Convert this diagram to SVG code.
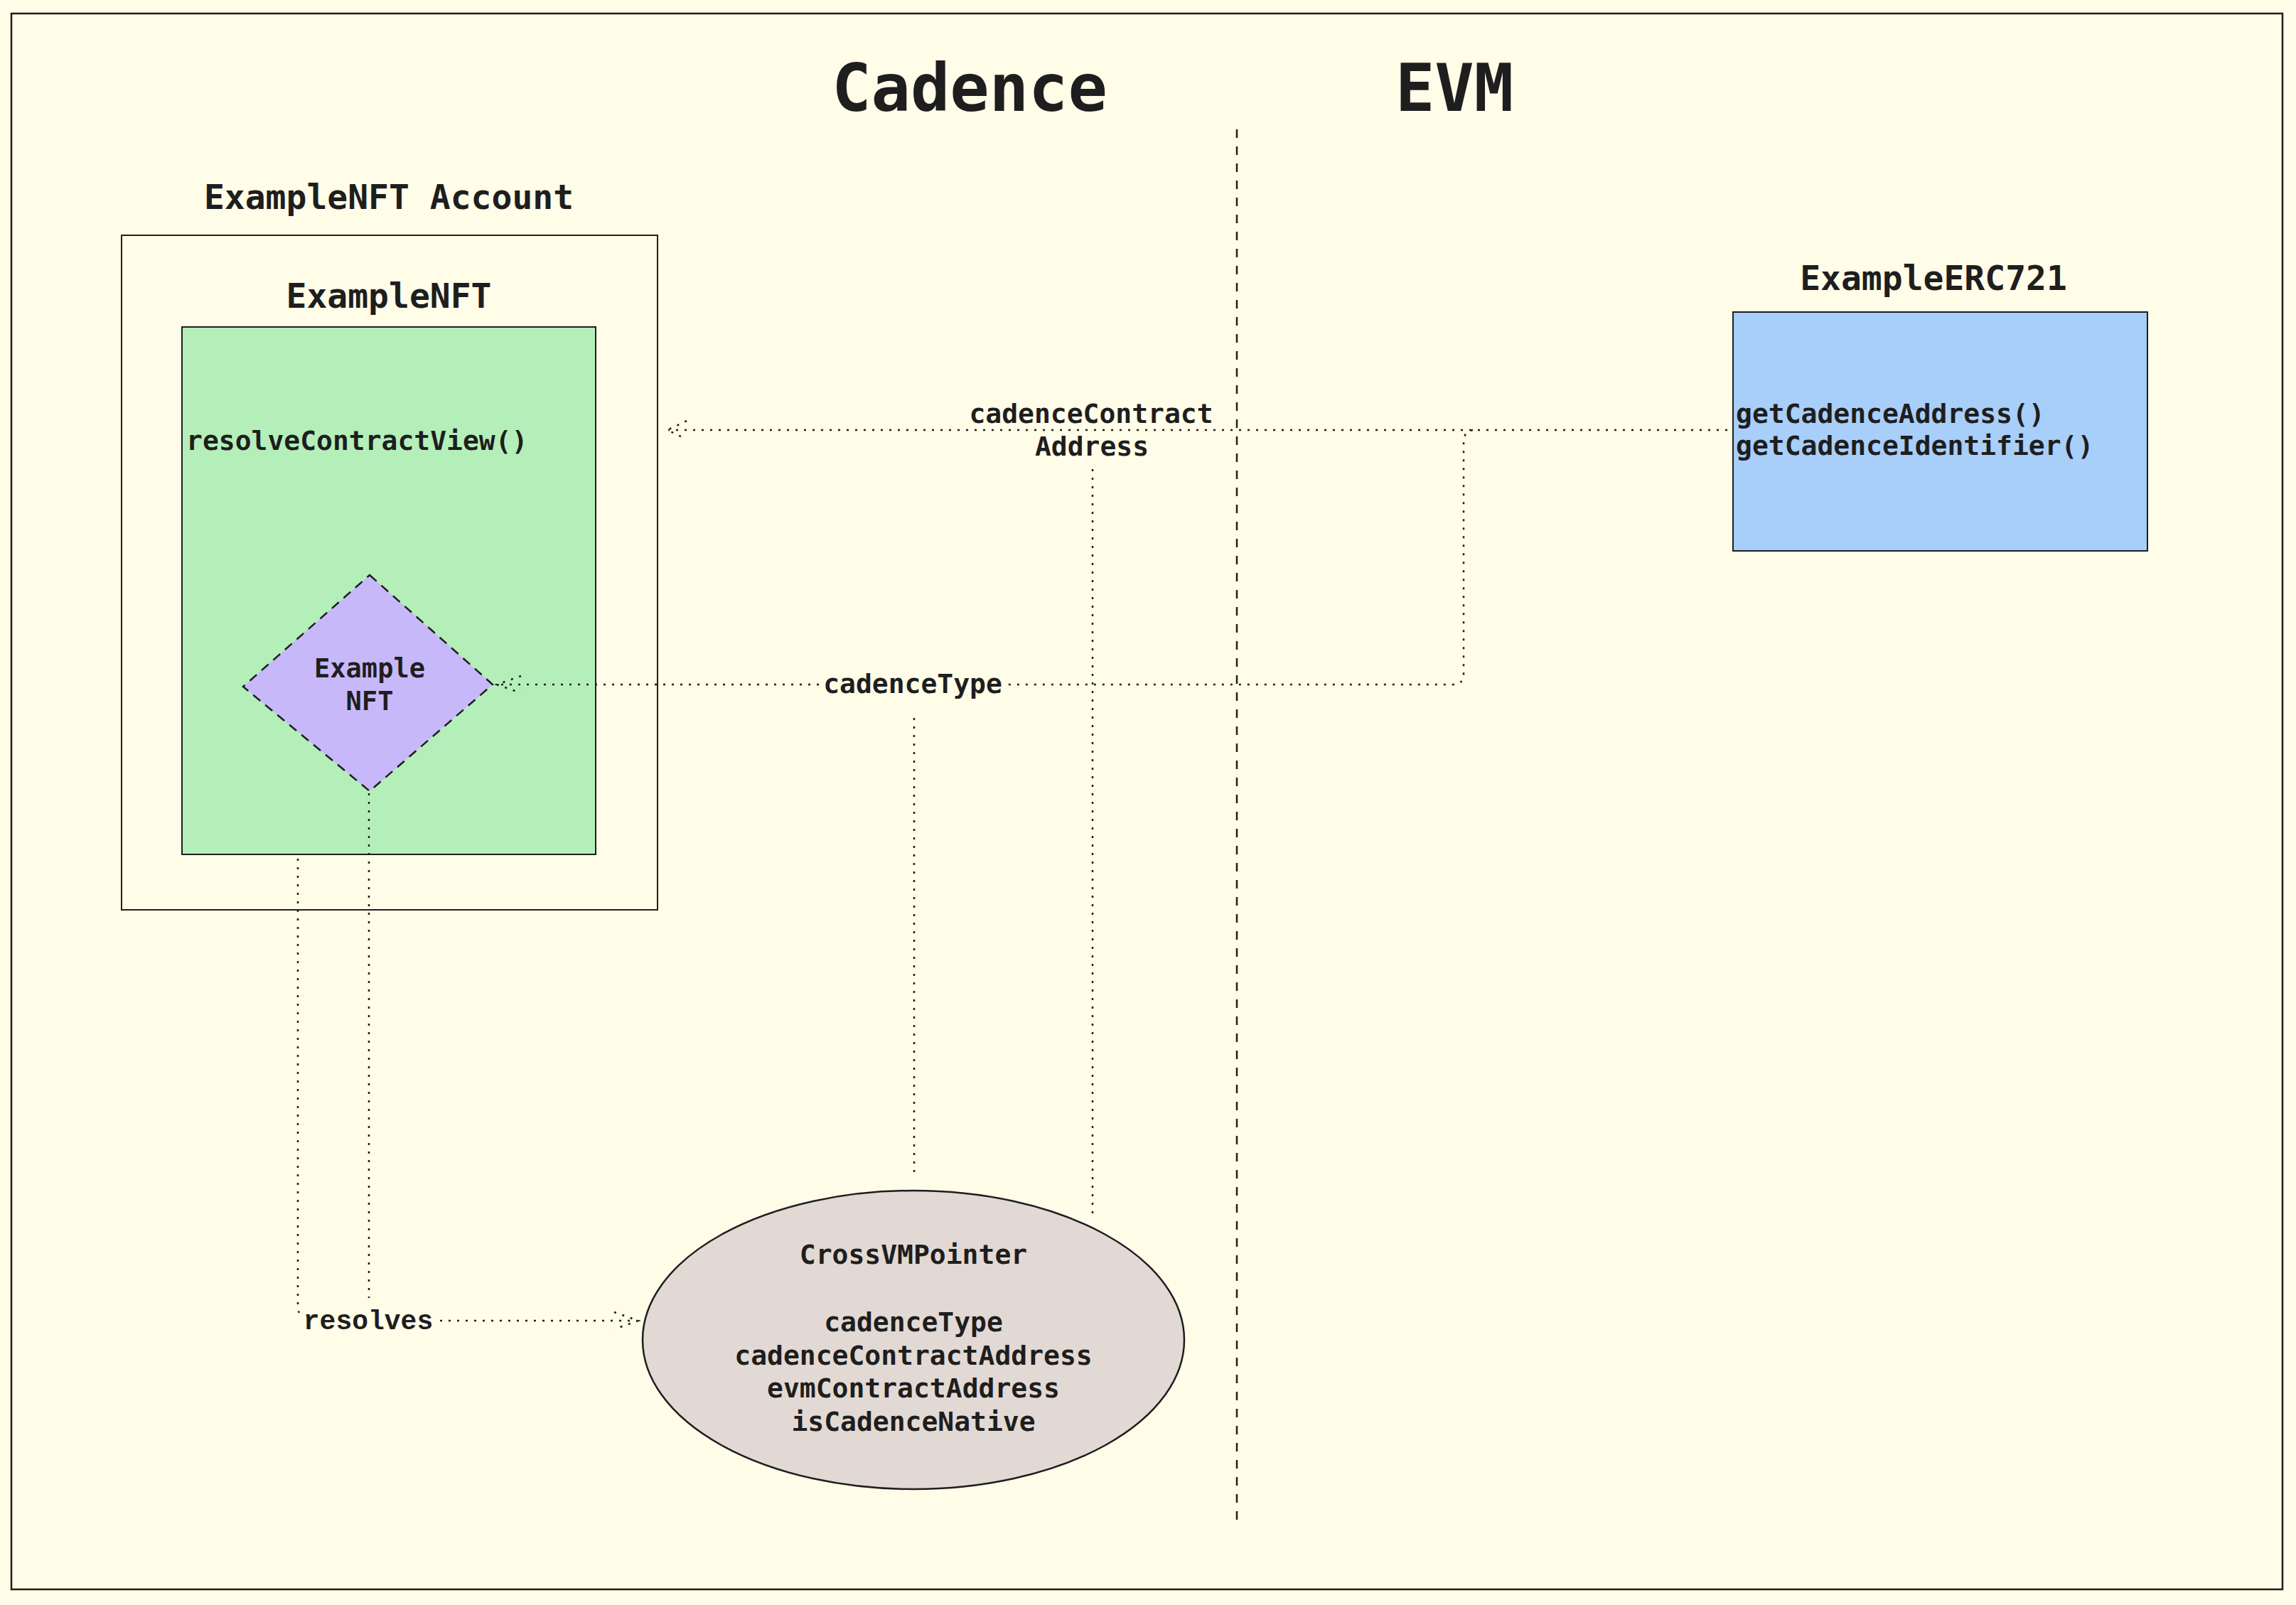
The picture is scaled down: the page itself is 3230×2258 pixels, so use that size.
<svg xmlns="http://www.w3.org/2000/svg" width="3230" height="2258" viewBox="0 0 3230 2258">
<defs>
<style>
.t{font-family:"DejaVu Sans Mono","Liberation Mono",monospace;fill:#1e1e1e}
.title{font-size:92px;font-weight:bold}
.h{font-size:48px;font-weight:bold}
.l{font-size:38px;font-weight:bold}
.dot{fill:none;stroke:#1e1e1e;stroke-width:2.5;stroke-dasharray:3 9;stroke-linecap:butt}
.box{stroke:#1e1e1e;stroke-width:2}
</style>
</defs>
<rect x="0" y="0" width="3230" height="2258" fill="#fffce8"/>
<rect x="16" y="19" width="3195" height="2217" fill="none" stroke="#1e1e1e" stroke-width="2.5"/>

<g id="title-cadence"><text class="t title" x="1364" y="156" text-anchor="middle">Cadence</text></g>
<g id="title-evm"><text class="t title" x="2046" y="156" text-anchor="middle">EVM</text></g>
<g id="divider"><line x1="1740" y1="182" x2="1740" y2="2147" stroke="#1e1e1e" stroke-width="2.5" stroke-dasharray="12 12"/></g>

<g id="account">
<text class="t h" x="547" y="294" text-anchor="middle">ExampleNFT Account</text>
<rect class="box" x="171" y="331" width="754" height="949" fill="none"/>
</g>

<g id="examplenft">
<text class="t h" x="547" y="433" text-anchor="middle">ExampleNFT</text>
<rect class="box" x="256" y="460" width="582" height="742" fill="#b4efb9"/>
<text class="t l" x="262" y="633">resolveContractView()</text>
</g>

<g id="examplenft-resource">
<polygon points="520,809 693,963 520,1113 342,966" fill="#c7b8fa" stroke="#1e1e1e" stroke-width="2.5" stroke-dasharray="13 9"/>
<text class="t l" x="520" y="953" text-anchor="middle" style="font-size:37px">Example</text>
<text class="t l" x="520" y="999" text-anchor="middle" style="font-size:37px">NFT</text>
</g>

<g id="exampleerc721">
<text class="t h" x="2720" y="408" text-anchor="middle">ExampleERC721</text>
<rect class="box" x="2438" y="439" width="583" height="336" fill="#a8cefa"/>
<text class="t l" x="2442" y="595">getCadenceAddress()</text>
<text class="t l" x="2442" y="640">getCadenceIdentifier()</text>
</g>

<g id="crossvmpointer">
<ellipse cx="1285" cy="1885" rx="381" ry="210" fill="#e3d9d4" stroke="#1e1e1e" stroke-width="2.5"/>
<text class="t l" x="1285" y="1778" text-anchor="middle">CrossVMPointer</text>
<text class="t l" x="1285" y="1873" text-anchor="middle">cadenceType</text>
<text class="t l" x="1285" y="1920" text-anchor="middle">cadenceContractAddress</text>
<text class="t l" x="1285" y="1966" text-anchor="middle">evmContractAddress</text>
<text class="t l" x="1285" y="2013" text-anchor="middle">isCadenceNative</text>
</g>

<g id="connectors">
<path class="dot" d="M2430,605 H940"/>
<path class="dot" d="M966,592 L939,605 L966,618"/>
<text class="t l" x="1535" y="595" text-anchor="middle">cadenceContract</text>
<text class="t l" x="1536" y="641" text-anchor="middle">Address</text>
<path class="dot" d="M2072,605 Q2059,607 2059,622 V948 Q2059,963 2044,963 H1414"/>
<path class="dot" d="M1152,963 H700"/>
<path class="dot" d="M733,951 L699,963 L733,975"/>
<text class="t l" x="1284" y="975" text-anchor="middle">cadenceType</text>
<path class="dot" d="M1286,1010 V1657"/>
<path class="dot" d="M1537,660 V1712"/>
<path class="dot" d="M419,1208 V1838 Q419,1848 425,1850"/>
<path class="dot" d="M519,1116 V1826"/>
<path class="dot" d="M619,1858 H896"/>
<path class="dot" d="M864,1846 L898,1858 L864,1870"/>
<text x="518" y="1870" text-anchor="middle" style="font-family:'Liberation Mono','DejaVu Sans Mono',monospace;font-size:38px;font-weight:bold;fill:#1e1e1e">resolves</text>
</g>
</svg>
